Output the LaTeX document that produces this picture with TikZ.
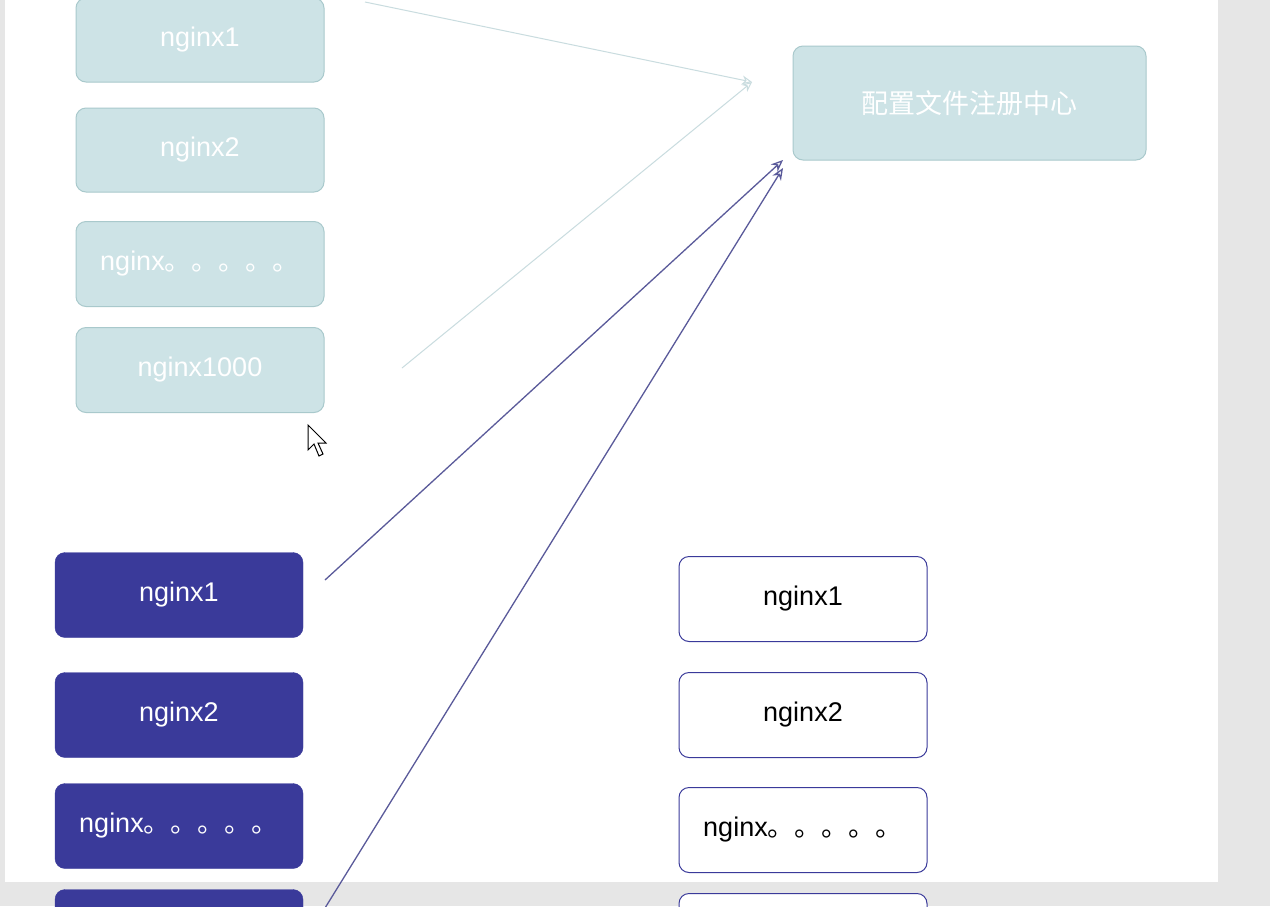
\documentclass[tikz,border=0pt]{standalone}
\usepackage{fontspec}
\setmainfont{Liberation Sans}
\newfontfamily\cjk{Noto Sans CJK SC}
\usetikzlibrary{arrows.meta}
\newcommand{\mydots}{{\cjk 。。。。。}}
\begin{document}
\begin{tikzpicture}[x=1pt,y=-1pt,
  fade/.style={draw=fadeb,fill=fadef,rounded corners=10pt,text=white,font=\fontsize{27}{30}\selectfont,line width=1pt},
  dark/.style={draw=darkf,fill=darkf,rounded corners=10pt,text=white,font=\fontsize{27}{30}\selectfont},
  wht/.style={draw=darkf,fill=white,rounded corners=10pt,text=black,font=\fontsize{27}{30}\selectfont,line width=1pt},
  farr/.style={draw=fadea,line width=1pt,-{Stealth[open,length=10pt,width=9pt]}},
  darr/.style={draw=darka,line width=1.3pt,-{Stealth[open,length=12pt,width=10pt]}}]
\definecolor{fadef}{HTML}{CDE3E6}
\definecolor{fadeb}{HTML}{A9C9CC}
\definecolor{fadea}{HTML}{C9DCDF}
\definecolor{darkf}{HTML}{3A3A9A}
\definecolor{darka}{HTML}{5A5A9A}
\definecolor{bg}{HTML}{E6E6E6}
\useasboundingbox (0,0) rectangle (1270,906);
\clip (0,0) rectangle (1270,906);
\fill[bg] (0,0) rectangle (1270,906);
\fill[white] (5,0) rectangle (1218,882);
% faded
\node[fade,minimum width=248pt,minimum height=84pt] (a1) at (200,40) {nginx1};
\node[fade,minimum width=248pt,minimum height=84pt] (a2) at (200,150) {nginx2};
\node[fade,minimum width=248pt,minimum height=85pt] (a3) at (200,264) {nginx\mydots};
\node[fade,minimum width=248pt,minimum height=85pt] (a4) at (200,370) {nginx1000};
\node[fade,minimum width=353pt,minimum height=114pt,font=\cjk\fontsize{27}{30}\selectfont] (c) at (969.5,103) {配置文件注册中心};
\coordinate (f1) at (365,2);
\coordinate (f2) at (402,368);
\coordinate (ft) at (752,82);
\draw[farr] (f1) -- (ft);
\draw[farr] (f2) -- (ft);
% dark
\node[dark,minimum width=248pt,minimum height=85pt] (b1) at (179,595) {nginx1};
\node[dark,minimum width=248pt,minimum height=85pt] (b2) at (179,715) {nginx2};
\node[dark,minimum width=248pt,minimum height=85pt] (b3) at (179,826) {nginx\mydots};
\node[dark,minimum width=248pt,minimum height=85pt] (b4) at (179,932) {};
\coordinate (d1) at (325,580);
\coordinate (d2) at (325,908);
\coordinate (t1) at (783,160);
\coordinate (t2) at (783,168);
\draw[darr] (d1) -- (t1);
\draw[darr] (d2) -- (t2);
% white
\node[wht,minimum width=248pt,minimum height=85pt] (w1) at (803,599) {nginx1};
\node[wht,minimum width=248pt,minimum height=85pt] (w2) at (803,715) {nginx2};
\node[wht,minimum width=248pt,minimum height=85pt] (w3) at (803,830) {nginx\mydots};
\node[wht,minimum width=248pt,minimum height=85pt] (w4) at (803,936) {};
% cursor
\draw[fill=white,line width=1pt] (308,425) -- (308,450) -- (314,444) -- (319,456) -- (323,454) -- (318,443) -- (326,443) -- cycle;
\end{tikzpicture}
\end{document}
